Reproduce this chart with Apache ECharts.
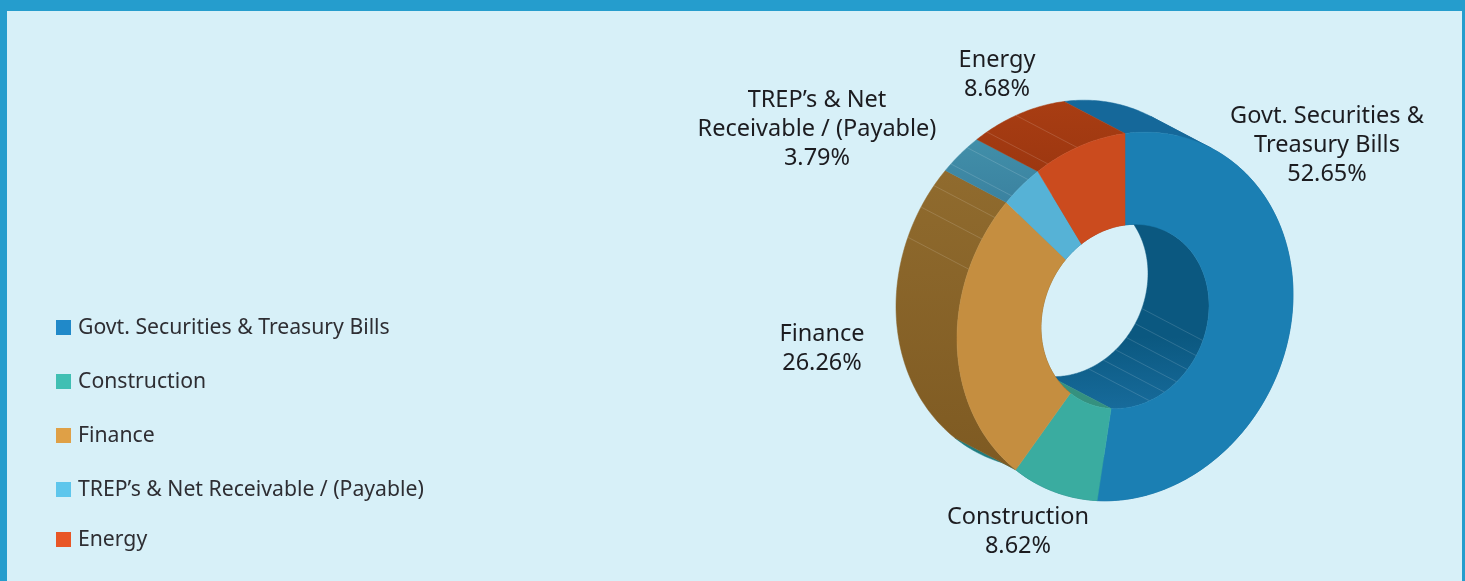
<!DOCTYPE html>
<html>
<head>
<meta charset="utf-8">
<title>Portfolio allocation</title>
<script src="https://cdn.jsdelivr.net/npm/echarts@6/dist/echarts.min.js"></script>
<style>
    html, body { margin: 0; padding: 0; }
    #viz { width: 1465px; height: 581px; }
</style>
</head>
<body>
<div id="viz"></div>
<script>
// Sector data
const categories = ['Govt. Securities & Treasury Bills', 'Construction', 'Finance', "TREP\u2019s & Net Receivable / (Payable)", 'Energy'];
const shares = [52.65, 8.62, 26.26, 3.79, 8.68];
const labelNames = [['Govt. Securities &', 'Treasury Bills'], ['Construction'], ['Finance'], ['TREP\u2019s & Net', 'Receivable / (Payable)'], ['Energy']];

// Colours per sector
const legendColors = ['#2089c9', '#40bfb3', '#dfa046', '#5ec6ec', '#e85626'];
const faceColors = ['#1b7fb3', '#3aaca0', '#c58e40', '#56b2d6', '#cb4b1e'];
const outerWallColors = [['#15689a', '#15689a'], ['#1f7d80', '#1f7d80'], ['#906b2e', '#7e5a22'], ['#418fa9', '#3b82a0'], ['#a83d13', '#9d3710']];
const innerWallColors = [['#0b5880', '#0b5880', '#0b5880', '#176b9b'], ['#35917f', '#35917f'], ['#906b2e', '#7e5a22'], ['#418fa9', '#3b82a0'], ['#a83d13', '#9d3710']];

// Thin facet lines on the walls, degrees clockwise from the top
const outerFacets = [291.7, 301.7, 309.3, 317.7, 324.8, 332.7, 343.4];
const innerFacets = [112, 122, 132, 142, 152, 163];

// Where the tilted ring sits on the page
const center = [1125, 316.5];
const axisA = [168, -22];
const axisB = [0, -183];
const holeRatio = 0.5;
const depth = [-61, -32];

// Label centres and legend tops
const labelCenters = [[1327, 116], [1018, 517], [822, 334], [817, 100], [997, 60]];
const legendTops = [317, 371, 425, 479, 529];

const fontName = 'Noto Sans';
const total = shares.reduce((a, b) => a + b, 0);

// Angle where a wall folds over: the ring edge runs parallel to the depth there
const foldAngle = Math.atan2(
    axisA[0] * depth[1] - axisA[1] * depth[0],
    axisB[0] * depth[1] - axisB[1] * depth[0]
) * 180 / Math.PI;

function ringPoint(deg, ratio, back) {
    const t = deg * Math.PI / 180;
    const s = Math.sin(t), c = Math.cos(t);
    return [
        center[0] + ratio * (axisA[0] * s + axisB[0] * c) + back * depth[0],
        center[1] + ratio * (axisA[1] * s + axisB[1] * c) + back * depth[1]
    ];
}

function arcPoints(from, to, ratio, back) {
    const pts = [];
    const steps = Math.max(2, Math.ceil(Math.abs(to - from)));
    for (let i = 0; i <= steps; i++) {
        pts.push(ringPoint(from + (to - from) * i / steps, ratio, back));
    }
    return pts;
}

function polygonEl(points, fill, z2, stroke) {
    return {
        type: 'polygon',
        z2: z2,
        shape: { points: points },
        style: { fill: fill, stroke: stroke || fill, lineWidth: 0.5 }
    };
}

function wallGradient(from, to, ratio, colors) {
    const ys = arcPoints(from, to, ratio, 0).concat(arcPoints(from, to, ratio, 1)).map(p => p[1]);
    const stops = colors.map((c, k) => ({ offset: k / (colors.length - 1), color: c }));
    return new echarts.graphic.LinearGradient(0, Math.min(...ys), 0, Math.max(...ys), stops, true);
}

// One polygon per unfolded stretch of wall, split at the fold angles
function wallEls(from, to, ratio, colors, z2) {
    const fill = wallGradient(from, to, ratio, colors);
    const cuts = [from];
    [foldAngle, foldAngle + 180].forEach(d => {
        if (d > from && d < to) cuts.push(d);
    });
    cuts.push(to);
    const els = [];
    for (let k = 0; k < cuts.length - 1; k++) {
        const front = arcPoints(cuts[k], cuts[k + 1], ratio, 0);
        const back = arcPoints(cuts[k], cuts[k + 1], ratio, 1);
        els.push(polygonEl(front.concat(back.reverse()), fill, z2));
    }
    return els;
}

function facetLine(deg, ratio, z2) {
    const a = ringPoint(deg, ratio, 0), b = ringPoint(deg, ratio, 1);
    return {
        type: 'line',
        z2: z2,
        shape: { x1: a[0], y1: a[1], x2: b[0], y2: b[1] },
        style: { stroke: 'rgba(255,255,255,0.18)', lineWidth: 0.8 }
    };
}

function renderSector(params, api) {
    const i = params.seriesIndex;
    let before = 0;
    for (let k = 0; k < i; k++) before += shares[k];
    const from = before / total * 360;
    const to = from + api.value(0) / total * 360;

    const face = arcPoints(from, to, 1, 0).concat(arcPoints(from, to, holeRatio, 0).reverse());

    const children = wallEls(from, to, 1, outerWallColors[i], 1)
        .concat(wallEls(from, to, holeRatio, innerWallColors[i], 3));
    children.push(polygonEl(face, faceColors[i], 5));

    outerFacets.filter(d => d > from && d < to).forEach(d => children.push(facetLine(d, 1, 2)));
    innerFacets.filter(d => d > from && d < to).forEach(d => children.push(facetLine(d, holeRatio, 4)));

    children.push({
        type: 'text',
        z2: 6,
        style: {
            x: labelCenters[i][0],
            y: labelCenters[i][1] - 14,
            text: labelNames[i].concat(shares[i].toFixed(2) + '%').join('\n'),
            fill: '#1c1c20',
            font: '23.5px "' + fontName + '"',
            lineHeight: 29,
            align: 'center',
            verticalAlign: 'top'
        }
    });

    return { type: 'group', children: children };
}

var myChart = echarts.init(document.getElementById('viz'));

var option = {
    animation: false,
    backgroundColor: '#259dcd',
    graphic: [{
        type: 'rect',
        z: -10,
        silent: true,
        shape: { x: 7, y: 11, width: 1455, height: 570 },
        style: { fill: '#d7f0f8' }
    }],
    legend: categories.map((name, i) => ({
        data: [{ name: name, itemStyle: { color: legendColors[i] } }],
        left: 56,
        top: legendTops[i],
        padding: 0,
        itemWidth: 15,
        itemHeight: 15,
        selectedMode: false,
        icon: 'rect',
        textStyle: { color: '#2e2e33', fontFamily: fontName, fontSize: 21.2, padding: [0, 0, 0, 2] }
    })),
    series: categories.map((name, i) => ({
        name: name,
        type: 'custom',
        coordinateSystem: 'none',
        silent: true,
        itemStyle: { color: legendColors[i] },
        renderItem: renderSector,
        data: [[shares[i]]]
    }))
};

myChart.setOption(option);
</script>
</body>
</html>
